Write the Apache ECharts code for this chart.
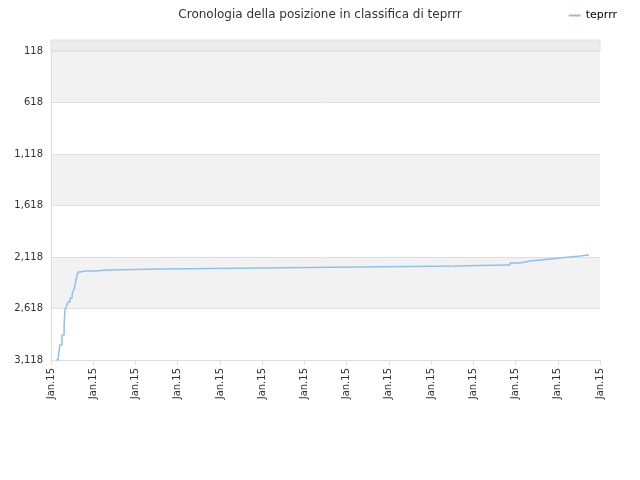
<!DOCTYPE html>
<html><head><meta charset="utf-8">
<script src="https://cdn.jsdelivr.net/npm/echarts@6/dist/echarts.min.js"></script>
<style>html,body{margin:0;padding:0}#c{width:640px;height:480px}</style></head>
<body><div id="c"></div>
<script>
const xPos = [0.12,0.17,0.21,0.26,0.31,0.33,0.36,0.40,0.45,0.50,0.54,0.57,0.59,0.62,0.64,0.69,0.81,1.04,1.35,2.58,2.63,4.95,4.99,7.27,7.32,9.57,9.61,10.75,10.87,11.1,11.34,11.58,11.82,12.05,12.29,12.53,12.72];
const ranks = [3118,3098,2972,2875,2778,2632,2603,2555,2516,2477,2438,2390,2341,2293,2264,2254,2254,2244,2235,2235,2225,2225,2215,2215,2205,2205,2196,2196,2176,2157,2147,2137,2128,2118,2108,2099,2089];
const xLabels = Array(14).fill('Jan.15');
const seriesName = 'teprrr';
const chart = echarts.init(document.getElementById('c'));
chart.setOption({
  animation:false,
  title:{text:'Cronologia della posizione in classifica di teprrr',left:'center',top:4,textStyle:{fontFamily:'DejaVu Sans',fontSize:12,fontWeight:'normal',color:'#333'}},
  legend:{right:18,top:5,itemWidth:12,itemHeight:2,icon:'rect',textStyle:{fontFamily:'DejaVu Sans',fontSize:11,color:'#000'}},
  graphic:[{type:'rect',shape:{x:51,y:40,width:549,height:11},style:{fill:'#ececec',stroke:'#ddd'}}],
  grid:{left:51,right:40,top:51,bottom:120},
  xAxis:{type:'value',min:0,max:13,interval:1,
    axisLine:{lineStyle:{color:'#ddd'}},axisTick:{show:true,lineStyle:{color:'#ddd'}},splitLine:{show:false},
    axisLabel:{rotate:90,fontFamily:'DejaVu Sans',fontSize:10,color:'#333',formatter:(v)=>xLabels[Math.round(v)]}},
  yAxis:{type:'value',inverse:true,min:118,max:3118,interval:500,
    axisLine:{show:true,lineStyle:{color:'#ddd'}},axisTick:{show:false},
    axisLabel:{fontFamily:'DejaVu Sans',fontSize:10,color:'#333'},
    splitLine:{lineStyle:{color:'#e0e0e0'}},
    splitArea:{show:true,areaStyle:{color:['#f2f2f2','#ffffff']}}},
  series:[{name:seriesName,type:'line',step:'end',showSymbol:false,
    lineStyle:{color:'#90c0f0',width:1.5},itemStyle:{color:'#90c0f0'},
    data:xPos.map((x,i)=>[x,ranks[i]])}]
});
</script></body></html>
